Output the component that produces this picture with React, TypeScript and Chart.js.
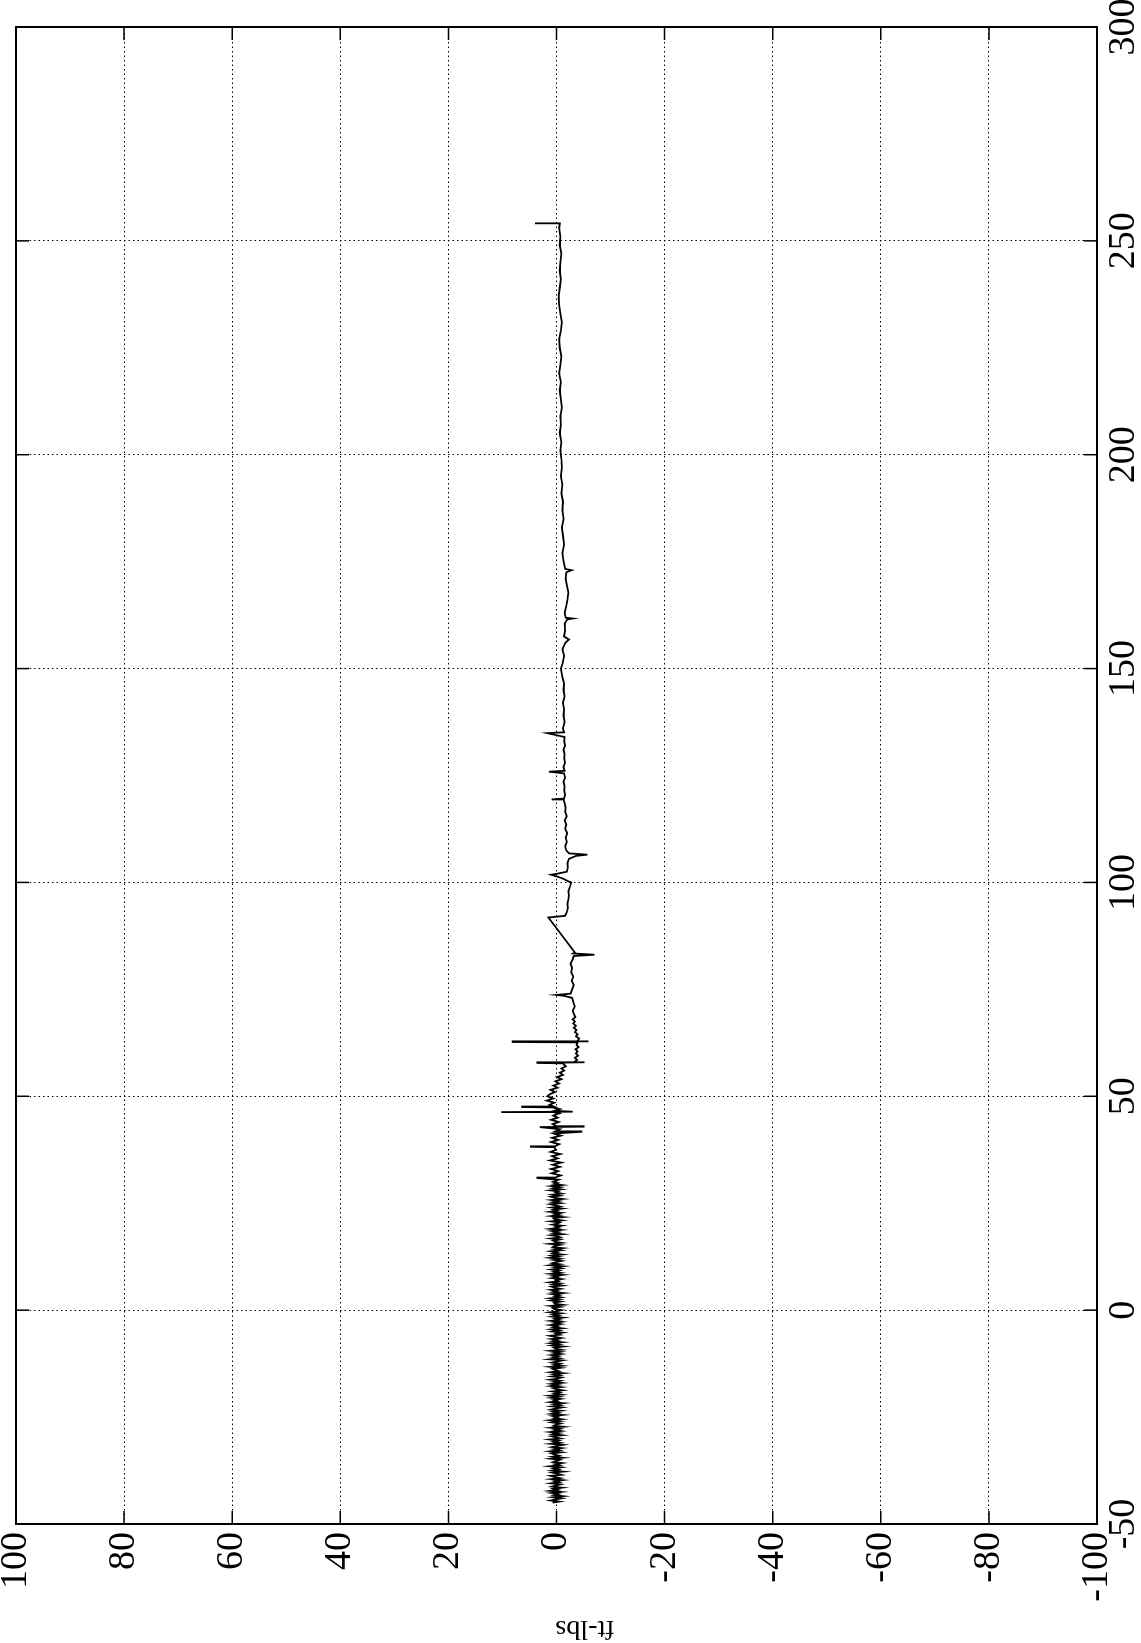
import React, { useEffect, useRef } from "react";
import { Chart, registerables } from "chart.js";

Chart.register(...registerables);

// ---- axis ticks ----
const timeTicks = [-50, 0, 50, 100, 150, 200, 250, 300];
const torqueTicks = [-100, -80, -60, -40, -20, 0, 20, 40, 60, 80, 100];
const yAxisTitle = "ft-lbs";

// ---- quiet (pre-event) recording: evenly sampled ----
const quietStart = -45;
const quietStep = 0.25;
const quietTorque = [
  0.7, -0.5, 1.1, 0.2, -0.9, 0.6, -1.2, 0.4, -0.3, 0.9,
  -0.8, 1.2, -0.2, 0.5, -1.0, 0.8, 0.1, -0.7, 1.0, -0.4,
  0.3, -1.1, 0.9, -0.6, 0.4, 1.1, -0.9, -0.2, 0.7, -1.2,
  0.8, -0.3, 0.5, -0.8, 1.2, -0.5, 0.2, -1.0, 0.6, 0.0,
  -0.6, 1.0, -1.1, 0.7, -0.4, 0.3, 0.9, -0.8, 1.1, -0.5,
  0.4, -0.9, 0.8, -0.1, -1.2, 1.0, -0.6, 0.5, -0.3, 1.2,
  -0.7, 0.2, 0.9, -1.0, 0.6, -0.4, 1.1, -0.8, 0.3, -0.6,
  1.0, -1.2, 0.5, 0.1, -0.7, 0.8, -0.5, 1.2, -0.9, 0.4,
  -0.2, 0.7, -1.1, 0.9, -0.3, 0.6, -0.8, 1.0, 0.2, -1.0,
  0.8, -0.6, 0.4, -1.2, 1.1, -0.1, 0.5, -0.7, 0.9, -0.4,
  1.2, -0.9, 0.3, -0.5, 0.7, -1.1, 0.0, 0.6, -0.8, 1.0,
  -0.3, 0.9, -1.0, 0.4, -0.6, 1.1, -0.2, -0.9, 0.8, -0.5,
  0.5, -1.2, 1.0, -0.4, 0.2, 0.7, -0.7, 1.1, -1.0, 0.3,
  -0.6, 0.8, -0.1, -1.1, 1.2, -0.5, 0.6, -0.3, 0.9, -0.8,
  0.4, -0.7, 1.1, -0.9, 0.1, 0.5, -1.2, 0.8, -0.4, 1.0,
  -1.0, 0.6, -0.2, 0.9, -0.8, 0.3, 1.2, -0.6, 0.0, -1.1,
  0.7, -0.4, 0.9, -1.0, 0.5, -0.2, 1.1, -0.7, 0.3, -0.9,
  1.0, -0.5, 0.2, -1.2, 0.8, -0.3, 0.6, -0.8, 1.2, -0.1,
  -0.9, 0.4, 0.7, -0.6, 1.0, -1.1, 0.3, 0.5, -0.7, 0.9,
  -0.4, 1.1, -0.8, 0.2, -0.5, 0.8, -1.2, 0.6, -0.1, 1.0,
  -0.7, 0.3, 0.9, -1.0, 0.5, -0.6, 1.2, -0.3, 0.1, -0.9,
  0.8, -0.2, 0.6, -1.1, 1.0, -0.7, 0.4, -0.4, 0.9, -0.8,
  0.2, -1.2, 1.1, -0.5, 0.7, 0.0, -0.9, 0.5, -0.6, 1.2,
  -0.3, 0.8, -1.0, 0.6, -0.1, 1.0, -0.8, 0.3, -1.1, 0.7,
  0.4, -0.6, 1.2, -0.9, 0.2, 0.6, -0.5, 1.0, -0.7, -0.2,
  0.9, -1.1, 0.5, -0.3, 0.8, -0.8, 1.1, -0.4, 0.1, -1.0,
  0.7, -0.2, -0.6, 1.0, -0.9, 0.4, 0.6, -1.2, 0.9, -0.5,
  0.3, -0.8, 1.2, -0.1, 0.5, -1.0, 0.8, -0.6, 0.2, 1.1,
  -0.7, 0.6, -0.4, 0.9, -1.1, 0.3, 1.0, -0.5, 0.7, -0.9,
  0.1, -0.3, 1.1, -0.8, 0.5, -0.6, 0.9, -1.0, 0.4, -0.2,
];

// ---- event recording: time (s) and torque (ft-lbs) ----
const eventTime = [
  30.0, 30.5, 30.9, 31.0, 31.5, 32.0, 32.5, 33.0, 33.5, 34.0,
  34.5, 35.0, 35.5, 36.0, 36.5, 37.0, 37.5, 38.1, 38.2, 38.3,
  38.8, 39.3, 39.8, 40.3, 40.8, 41.3, 41.7, 41.8, 42.3, 42.8,
  42.9, 43.0, 43.5, 44.0, 44.5, 45.0, 45.5, 46.0, 46.2, 46.3,
  46.4, 46.6, 47.0, 47.4, 47.5, 47.6, 48.0, 48.5, 49.0, 49.5,
  50.0, 50.5, 51.0, 51.5, 52.0, 52.5, 53.0, 53.5, 54.0, 54.5,
  55.0, 55.5, 56.0, 56.5, 57.0, 57.7, 57.8, 57.9, 58.0, 58.5,
  59.0, 59.5, 60.0, 60.5, 61.0, 61.5, 62.0, 62.6, 62.7, 62.8,
  62.9, 63.5, 64.0, 64.5, 65.0, 65.5, 66.0, 66.5, 67.0, 67.5,
  68.0, 68.5, 69.0, 70.0, 71.0, 72.0, 73.0, 73.5, 73.7, 74.0,
  75.0, 76.0, 77.0, 78.0, 79.0, 80.0, 81.0, 82.0, 82.8, 83.1,
  83.4, 83.6, 91.8, 92.2, 93.0, 94.0, 95.0, 96.0, 97.0, 98.0,
  99.0, 100.0, 100.2, 101.0, 101.8, 102.0, 102.5, 103.5, 104.5, 105.5,
  106.2, 106.5, 106.8, 107.5, 108.5, 109.5, 110.5, 111.5, 112.5, 113.5,
  114.5, 115.5, 116.5, 117.5, 118.5, 119.3, 119.4, 119.6, 120.5, 121.5,
  122.5, 123.5, 124.5, 125.5, 125.9, 126.1, 127.0, 128.0, 129.0, 130.0,
  131.0, 132.0, 133.0, 134.0, 134.9, 135.1, 136.0, 137.5, 139.0, 140.5,
  142.0, 143.5, 145.0, 146.5, 148.0, 150.0, 151.5, 153.0, 154.5, 156.0,
  156.8, 157.5, 159.0, 160.5, 161.5, 161.7, 161.9, 163.0, 164.5, 166.0,
  167.8, 169.5, 171.0, 172.5, 173.0, 173.3, 175.0, 177.0, 179.0, 181.0,
  183.0, 185.0, 187.0, 189.0, 191.0, 193.0, 195.0, 197.0, 199.0, 201.0,
  203.0, 205.0, 207.0, 209.0, 211.0, 213.0, 215.0, 217.0, 219.0, 221.0,
  223.0, 225.0, 227.0, 229.0, 231.0, 233.0, 235.0, 237.0, 239.0, 241.0,
  243.0, 245.0, 247.0, 249.0, 251.0, 253.0, 254.0, 254.1,
];
const eventTorque = [
  0.6, -0.4, 3.7, 0.2, -0.8, 0.9, -0.3, 1.0, -0.6, 0.7,
  -0.9, 1.2, -0.2, 0.8, -0.7, 1.1, 0.1, 0.4, 4.9, 0.3,
  -0.5, 1.0, -0.3, 0.8, -0.8, 0.5, -4.6, 0.2, -0.6, 3.1,
  -5.0, 0.0, 0.7, -0.4, 1.0, -0.2, 0.6, -0.5, 0.3, 10.2,
  -3.0, 0.4, -0.6, 0.8, 6.5, 0.5, 1.3, 0.4, 1.8, 0.6,
  1.7, 1.2, 0.3, 1.1, -0.2, 0.6, -0.5, 0.2, -0.9, -0.1,
  -1.2, -0.6, -1.4, -0.9, -1.7, -1.2, 3.7, -5.2, -3.2, -3.8,
  -3.4, -4.0, -3.6, -3.9, -3.5, -4.1, -3.7, -3.9, 8.3, -5.9,
  -3.8, -4.2, -3.6, -3.9, -3.4, -3.7, -3.2, -3.6, -3.1, -3.4,
  -3.0, -3.5, -3.3, -3.0, -3.4, -3.1, -2.9, -1.4, 0.0, -2.6,
  -2.9, -3.2, -2.8, -3.1, -2.7, -2.9, -2.6, -3.0, -3.2, -7.0,
  -3.1, -3.4, 1.5, -1.6, -1.9, -2.1, -2.0, -2.2, -2.3, -2.2,
  -2.5, -2.7, -2.3, -1.0, 1.0, 0.0, -1.9, -2.1, -2.0, -2.3,
  -3.6, -5.7, -2.3, -1.8, -1.6, -1.9, -1.7, -2.0, -1.6, -1.8,
  -1.5, -1.9, -1.6, -1.7, -1.5, -1.3, 0.9, -1.4, -1.6, -1.4,
  -1.5, -1.3, -1.6, -1.4, 1.4, -1.5, -1.3, -1.6, -1.4, -1.5,
  -1.3, -1.6, -1.4, -1.5, 1.7, -1.4, -1.2, -1.5, -1.3, -1.4,
  -1.2, -1.5, -1.3, -1.4, -1.1, -0.8, -1.2, -1.4, -1.1, -1.6,
  -2.3, -1.4, -1.6, -1.5, -2.0, -3.0, -1.7, -1.5, -1.8, -2.0,
  -2.2, -1.9, -1.7, -1.8, -2.8, -1.6, -1.3, -1.1, -1.4, -1.2,
  -1.0, -1.3, -1.1, -1.2, -0.9, -1.1, -0.8, -1.0, -0.9, -0.7,
  -0.9, -0.6, -0.8, -0.7, -1.0, -0.8, -0.6, -0.8, -0.5, -0.7,
  -0.9, -0.6, -0.5, -0.8, -1.0, -0.7, -0.5, -0.4, -0.6, -0.8,
  -0.6, -0.7, -0.9, -0.6, -0.7, -0.5, -0.6, 4.0,
];

const CW = 1643; // canvas width (becomes page height after rotation)
const CH = 1141; // canvas height (becomes page width after rotation)
const FONT = "'Liberation Serif', 'Times New Roman', serif";

export default function App() {
  const ref = useRef<HTMLCanvasElement>(null);

  useEffect(() => {
    document.documentElement.style.overflow = "hidden";
    document.body.style.margin = "0";
    document.body.style.overflow = "hidden";
    document.body.style.background = "#fff";

    const points: { x: number; y: number }[] = [];
    quietTorque.forEach((v, i) => points.push({ x: quietStart + i * quietStep, y: v }));
    const n = Math.min(eventTime.length, eventTorque.length);
    for (let i = 0; i < n; i++) points.push({ x: eventTime[i], y: eventTorque[i] });

    const framePlugin = {
      id: "frame",
      afterDraw(chart: any) {
        const { ctx, chartArea: a, scales } = chart;
        const xs = scales.x;
        const ys = scales.y;
        const tl = 13;
        ctx.save();
        ctx.strokeStyle = "#000";
        ctx.lineWidth = 1.5;
        ctx.setLineDash([]);
        ctx.beginPath();
        timeTicks.forEach((t) => {
          const px = xs.getPixelForValue(t);
          ctx.moveTo(px, a.bottom);
          ctx.lineTo(px, a.bottom - tl);
          ctx.moveTo(px, a.top);
          ctx.lineTo(px, a.top + tl);
        });
        torqueTicks.forEach((v) => {
          const py = ys.getPixelForValue(v);
          ctx.moveTo(a.left, py);
          ctx.lineTo(a.left + tl, py);
          ctx.moveTo(a.right, py);
          ctx.lineTo(a.right - tl, py);
        });
        ctx.stroke();
        ctx.lineWidth = 2;
        ctx.strokeRect(a.left, a.top, a.right - a.left, a.bottom - a.top);
        // y-axis title
        ctx.translate(15, 585);
        ctx.rotate(-Math.PI / 2);
        ctx.fillStyle = "#000";
        ctx.font = `28px ${FONT}`;
        ctx.textAlign = "center";
        ctx.textBaseline = "middle";
        ctx.fillText(yAxisTitle, 0, 0);
        ctx.restore();
      },
    };

    const chart = new Chart(ref.current as HTMLCanvasElement, {
      type: "line",
      data: {
        datasets: [
          {
            data: points,
            borderColor: "#000",
            borderWidth: 1.8,
            pointRadius: 0,
            tension: 0,
            fill: false,
          },
        ],
      },
      options: {
        responsive: false,
        animation: false,
        devicePixelRatio: 1,
        layout: { padding: { top: 16, right: 27, left: 0, bottom: 0 } },
        plugins: {
          legend: { display: false },
          tooltip: { enabled: false },
          title: { display: false },
        },
        scales: {
          x: {
            type: "linear",
            min: -50,
            max: 300,
            afterBuildTicks: (s: any) => {
              s.ticks = timeTicks.map((v) => ({ value: v }));
            },
            afterFit: (s: any) => {
              s.height = 44;
              s.paddingLeft = 0;
              s.paddingRight = 0;
            },
            grid: { color: "#000", lineWidth: 1, drawTicks: false },
            border: { display: false, dash: [1.5, 3] },
            ticks: {
              color: "#000",
              font: { family: FONT, size: 38 },
              padding: 4,
              maxRotation: 0,
              autoSkip: false,
            },
          },
          y: {
            type: "linear",
            min: -100,
            max: 100,
            afterBuildTicks: (s: any) => {
              s.ticks = torqueTicks.map((v) => ({ value: v }));
            },
            afterFit: (s: any) => {
              s.width = 119;
              s.paddingTop = 0;
              s.paddingBottom = 0;
            },
            grid: { color: "#000", lineWidth: 1, drawTicks: false },
            border: { display: false, dash: [1.5, 3] },
            ticks: {
              color: "#000",
              font: { family: FONT, size: 38 },
              padding: 8,
              autoSkip: false,
            },
          },
        },
      } as any,
      plugins: [framePlugin],
    });
    return () => chart.destroy();
  }, []);

  return (
    <div
      style={{
        position: "fixed",
        left: 0,
        top: 0,
        width: CW,
        height: CH,
        background: "#fff",
        transformOrigin: "0 0",
        transform: `translate(0px, ${CW}px) rotate(-90deg)`,
      }}
    >
      <canvas ref={ref} width={CW} height={CH} style={{ width: CW, height: CH, display: "block" }} />
    </div>
  );
}
